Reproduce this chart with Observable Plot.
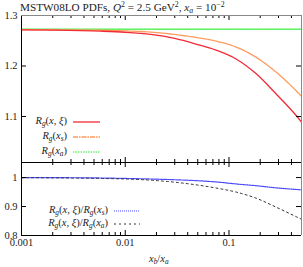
<!DOCTYPE html>
<html><head><meta charset="utf-8">
<script src="https://cdn.jsdelivr.net/npm/d3@7"></script>
<script src="https://cdn.jsdelivr.net/npm/@observablehq/plot@0.6"></script>
<style>
body{margin:0;background:#fff;}
#c{position:relative;width:303px;height:267px;font-family:"Liberation Serif","DejaVu Serif",serif;color:#222;overflow:hidden;}
#c svg{position:absolute;left:0;background:transparent;}
.t{position:absolute;white-space:nowrap;font-size:10.5px;line-height:12px;}
.i{font-style:italic;}
.sb{font-size:0.7em;vertical-align:-0.3em;line-height:0;}
.sp{font-size:0.7em;vertical-align:0.45em;line-height:0;}
</style></head>
<body><div id="c"></div>
<script>
// x values (x_b / x_a)
const xb = [0.001, 0.002, 0.0058, 0.01, 0.0176, 0.03, 0.048, 0.0749, 0.117, 0.182, 0.284, 0.444, 0.5];
// top panel series
const RgXXi = [1.2715, 1.271, 1.269, 1.2668, 1.2625, 1.2545, 1.2435, 1.2315, 1.214, 1.185, 1.145, 1.102, 1.089];
const RgXs  = [1.272, 1.2718, 1.2708, 1.2695, 1.2672, 1.2625, 1.2565, 1.2495, 1.2375, 1.2175, 1.188, 1.151, 1.14];
const RgXa  = [1.273, 1.273, 1.273, 1.273, 1.273, 1.273, 1.273, 1.273, 1.273, 1.273, 1.273, 1.273, 1.273];
// bottom panel ratios
const ratioXs = [1.0, 0.9997, 0.9985, 0.997, 0.995, 0.9925, 0.9895, 0.985, 0.978, 0.972, 0.9645, 0.959, 0.9576];
const ratioXa = [0.9995, 0.999, 0.997, 0.995, 0.991, 0.984, 0.975, 0.964, 0.95, 0.929, 0.898, 0.865, 0.856];
// axes
const xDomain = [0.001, 0.5];
const xMajor = [0.001, 0.01, 0.1];
const xMinor = [0.002,0.003,0.004,0.005,0.006,0.007,0.008,0.009,0.02,0.03,0.04,0.05,0.06,0.07,0.08,0.09,0.2,0.3,0.4,0.5];
const yTopDomain = [1.009, 1.3];
const yTopTicks = [1.1, 1.2, 1.3];
const yBotDomain = [0.8, 1.052];
const yBotTicks = [0.8, 0.9, 1.0];

const W = 303, ML = 21, MR = 2;
const innerW = W - ML - MR;
const FONT = "Liberation Serif, DejaVu Serif, serif";

function frameMarks(yDomain, yTicks, innerH, fmt, topGrey) {
  return [
    Plot.tickX(xMajor, {x: d => d, insetTop: innerH - 5, stroke: "#000"}),
    Plot.tickX(xMinor, {x: d => d, insetTop: innerH - 3, stroke: "#000"}),
    Plot.tickX(xMajor, {x: d => d, insetBottom: innerH - 5, stroke: "#000"}),
    Plot.tickX(xMinor, {x: d => d, insetBottom: innerH - 3, stroke: "#000"}),
    Plot.tickY(yTicks, {y: d => d, insetRight: innerW - 5, stroke: "#000"}),
    Plot.tickY(yTicks, {y: d => d, insetLeft: innerW - 5, stroke: "#000"}),
    Plot.ruleX([xDomain[0]], {stroke: "#000"}),
    Plot.ruleX([xDomain[1]], {stroke: "#888"}),
    Plot.ruleY([yDomain[0]], {stroke: "#000"}),
    Plot.ruleY([yDomain[1]], {stroke: topGrey ? "#888" : "#000"}),
    Plot.text(yTicks, {y: d => d, text: d => fmt(d), frameAnchor: "left", textAnchor: "end", dx: -4, fontSize: 10.5, fontFamily: FONT, fill: "#222"})
  ];
}

const topData = xb.map((x, i) => ({x, a: RgXXi[i], b: RgXs[i], c: RgXa[i]}));
const botData = xb.map((x, i) => ({x, a: ratioXs[i], b: ratioXa[i]}));

const hTop = 162, mtTop = 15;
const pTop = Plot.plot({
  width: W, height: hTop, marginTop: mtTop, marginBottom: 0, marginLeft: ML, marginRight: MR,
  x: {type: "log", domain: xDomain, axis: null},
  y: {domain: yTopDomain, axis: null},
  marks: [
    Plot.line(topData, {x: "x", y: "c", stroke: "#33ee33", strokeWidth: 1.2, strokeDasharray: "1.5,1", curve: "monotone-x"}),
    Plot.line(topData, {x: "x", y: "b", stroke: "#ff9a5c", strokeWidth: 1.3, strokeDasharray: "5,1,1.5,1", curve: "monotone-x"}),
    Plot.line(topData, {x: "x", y: "a", stroke: "#f22a35", strokeWidth: 1.3, curve: "monotone-x"}),
    ...frameMarks(yTopDomain, yTopTicks, hTop - mtTop, d => d.toFixed(1), true)
  ]
});
pTop.style.top = "0px";

const hBot = 105, mbBot = 32;
const pBot = Plot.plot({
  width: W, height: hBot, marginTop: 0, marginBottom: mbBot, marginLeft: ML, marginRight: MR,
  x: {type: "log", domain: xDomain, axis: null},
  y: {domain: yBotDomain, axis: null},
  marks: [
    Plot.line(botData, {x: "x", y: "a", stroke: "#4646ff", strokeWidth: 1.2, strokeDasharray: "1,1", curve: "monotone-x"}),
    Plot.line(botData, {x: "x", y: "b", stroke: "#333", strokeWidth: 1, strokeDasharray: "2,3", curve: "monotone-x"}),
    ...frameMarks(yBotDomain, yBotTicks, hBot - mbBot, d => d === 1 ? "1" : d.toFixed(1), false),
    Plot.text(xMajor, {x: d => d, text: d => String(d), frameAnchor: "bottom", dy: 10, fontSize: 10.5, fontFamily: FONT, fill: "#222"})
  ]
});
pBot.style.top = "162px";

const c = document.getElementById("c");
c.appendChild(pTop);
c.appendChild(pBot);

function addText(html, style) {
  const d = document.createElement("div");
  d.className = "t";
  d.innerHTML = html;
  Object.assign(d.style, style);
  c.appendChild(d);
}
function addSample(x1, x2, y, stroke, dash, sw) {
  const s = d3.create("svg").attr("width", x2 - x1).attr("height", 4)
    .style("left", x1 + "px").style("top", (y - 2) + "px");
  s.append("line").attr("x1", 0).attr("x2", x2 - x1).attr("y1", 2).attr("y2", 2)
    .attr("stroke", stroke).attr("stroke-width", sw).attr("stroke-dasharray", dash);
  c.appendChild(s.node());
}

// title
addText('MSTW08LO PDFs, <span class="i">Q</span><span class="sp">2</span> = 2.5 GeV<span class="sp">2</span>, <span class="i">x</span><span class="sb i">a</span> = 10<span class="sp">−2</span>', {left: "20px", top: "1px", fontSize: "11.2px"});

const Rg = '<span class="i">R</span><span class="sb i">g</span>';
const legTop = [
  {html: Rg + '(<span class="i">x, ξ</span>)', y: 122, stroke: "#f22a35", dash: null, sw: 1.3},
  {html: Rg + '(<span class="i">x</span><span class="sb i">s</span>)', y: 137, stroke: "#ff9a5c", dash: "5,1,1.5,1", sw: 1.3},
  {html: Rg + '(<span class="i">x</span><span class="sb i">a</span>)', y: 152, stroke: "#33ee33", dash: "1.5,1", sw: 1.2}
];
legTop.forEach(l => {
  addText(l.html, {right: (W - 67) + "px", top: (l.y - 7) + "px"});
  addSample(73, 100, l.y, l.stroke, l.dash, l.sw);
});
const legBot = [
  {html: Rg + '(<span class="i">x, ξ</span>)/' + Rg + '(<span class="i">x</span><span class="sb i">s</span>)', y: 211, stroke: "#4646ff", dash: "1,1", sw: 1.2},
  {html: Rg + '(<span class="i">x, ξ</span>)/' + Rg + '(<span class="i">x</span><span class="sb i">a</span>)', y: 224, stroke: "#333", dash: "2,3", sw: 1}
];
legBot.forEach(l => {
  addText(l.html, {right: (W - 108) + "px", top: (l.y - 7) + "px"});
  addSample(114, 140, l.y, l.stroke, l.dash, l.sw);
});

// x label
addText('<span class="i">x</span><span class="sb i">b</span>/<span class="i">x</span><span class="sb i">a</span>', {left: "149px", top: "253px"});
</script>
</body></html>
